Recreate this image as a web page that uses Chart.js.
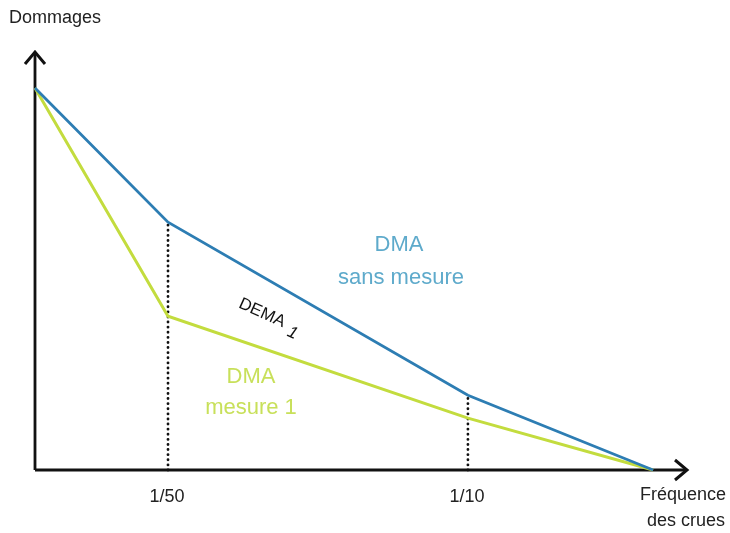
<!DOCTYPE html>
<html>
<head>
<meta charset="utf-8">
<script src="https://cdn.jsdelivr.net/npm/chart.js@4"></script>
<style>
html,body{margin:0;padding:0;background:#fff;}
#wrap{width:730px;height:533px;}
</style>
</head>
<body>
<div id="wrap"><canvas id="c" width="730" height="533"></canvas></div>
<script>
// Data (abstract units)
const xPoints = [0, 20.4, 66.4, 94.8];
const sansMesure = [91.4, 59.3, 17.9, 0];
const mesure1 = [91.4, 36.8, 12.4, 0];
const tickValues = [20.4, 66.4];
const tickLabels = ['1/50', '1/10'];
const yAxisTitle = 'Dommages';
const xAxisTitle = ['Fréquence', 'des crues'];

const BLUE = '#2d7db3';
const BLUE_TXT = '#5eaacb';
const GREEN = '#c3dc3e';
const GREEN_TXT = '#c8e05a';
const FONT = 'Arial, "Liberation Sans", sans-serif';

const toPts = (ys) => xPoints.map((x, i) => ({x, y: ys[i]}));

const dottedSets = tickValues.map((tv, i) => ({
  data: [{x: tv, y: 0}, {x: tv, y: sansMesure[i + 1]}],
  borderColor: '#111',
  borderWidth: 2.8,
  borderDash: [0.1, 5],
  borderCapStyle: 'round',
  pointRadius: 0,
  clip: false,
  order: 3
}));

const overlay = {
  id: 'overlay',
  beforeDatasetsDraw(chart) {
    const {ctx, chartArea: a} = chart;
    ctx.save();
    ctx.strokeStyle = '#111';
    ctx.lineWidth = 2.8;
    ctx.lineCap = 'butt';
    // axes
    ctx.beginPath();
    ctx.moveTo(a.left, a.bottom);
    ctx.lineTo(a.right - 1, a.bottom);
    ctx.moveTo(a.left, a.bottom);
    ctx.lineTo(a.left, a.top + 1);
    ctx.stroke();
    // arrowheads
    ctx.lineJoin = 'miter';
    ctx.lineWidth = 3;
    ctx.beginPath();
    ctx.moveTo(a.right - 12, a.bottom - 10);
    ctx.lineTo(a.right, a.bottom);
    ctx.lineTo(a.right - 12, a.bottom + 10);
    ctx.moveTo(a.left - 10, a.top + 12);
    ctx.lineTo(a.left, a.top);
    ctx.lineTo(a.left + 10, a.top + 12);
    ctx.stroke();
    ctx.restore();
  },
  afterDraw(chart) {
    const {ctx, chartArea: a} = chart;
    const xs = chart.scales.x;
    ctx.save();
    ctx.textAlign = 'center';
    ctx.textBaseline = 'middle';
    ctx.fillStyle = '#222';
    ctx.font = '18px ' + FONT;
    tickLabels.forEach((t, i) => {
      ctx.fillText(t, xs.getPixelForValue(tickValues[i]) - 1, a.bottom + 27);
    });
    ctx.textAlign = 'left';
    ctx.fillText(yAxisTitle, 9, 18);
    ctx.textAlign = 'center';
    ctx.fillText(xAxisTitle[0], 683, 495);
    ctx.fillText(xAxisTitle[1], 686, 521);
    // series labels
    ctx.font = '22px ' + FONT;
    ctx.fillStyle = BLUE_TXT;
    ctx.fillText('DMA', 399, 245);
    ctx.fillText('sans mesure', 401, 278);
    ctx.fillStyle = GREEN_TXT;
    ctx.fillText('DMA', 251, 377);
    ctx.fillText('mesure 1', 251, 408);
    // DEMA 1
    ctx.fillStyle = '#111';
    ctx.translate(262, 313);
    ctx.rotate(24 * Math.PI / 180);
    ctx.font = '17px ' + FONT;
    ctx.fillText('DEMA', 0, 0);
    ctx.font = 'italic 17px ' + FONT;
    ctx.fillText('1', 36, 6);
    ctx.restore();
  }
};

new Chart(document.getElementById('c'), {
  type: 'line',
  data: {
    datasets: [
      {
        data: toPts(sansMesure),
        borderColor: BLUE,
        borderWidth: 2.8,
        pointRadius: 0,
        tension: 0,
        clip: false,
        order: 1
      },
      {
        data: toPts(mesure1),
        borderColor: GREEN,
        borderWidth: 3,
        pointRadius: 0,
        tension: 0,
        clip: false,
        order: 2
      },
      ...dottedSets
    ]
  },
  options: {
    responsive: false,
    animation: false,
    devicePixelRatio: 1,
    layout: {padding: {left: 35, right: 43, top: 52, bottom: 63}},
    plugins: {legend: {display: false}, tooltip: {enabled: false}},
    scales: {
      x: {type: 'linear', min: 0, max: 100, display: false},
      y: {type: 'linear', min: 0, max: 100, display: false}
    }
  },
  plugins: [overlay]
});
</script>
</body>
</html>
